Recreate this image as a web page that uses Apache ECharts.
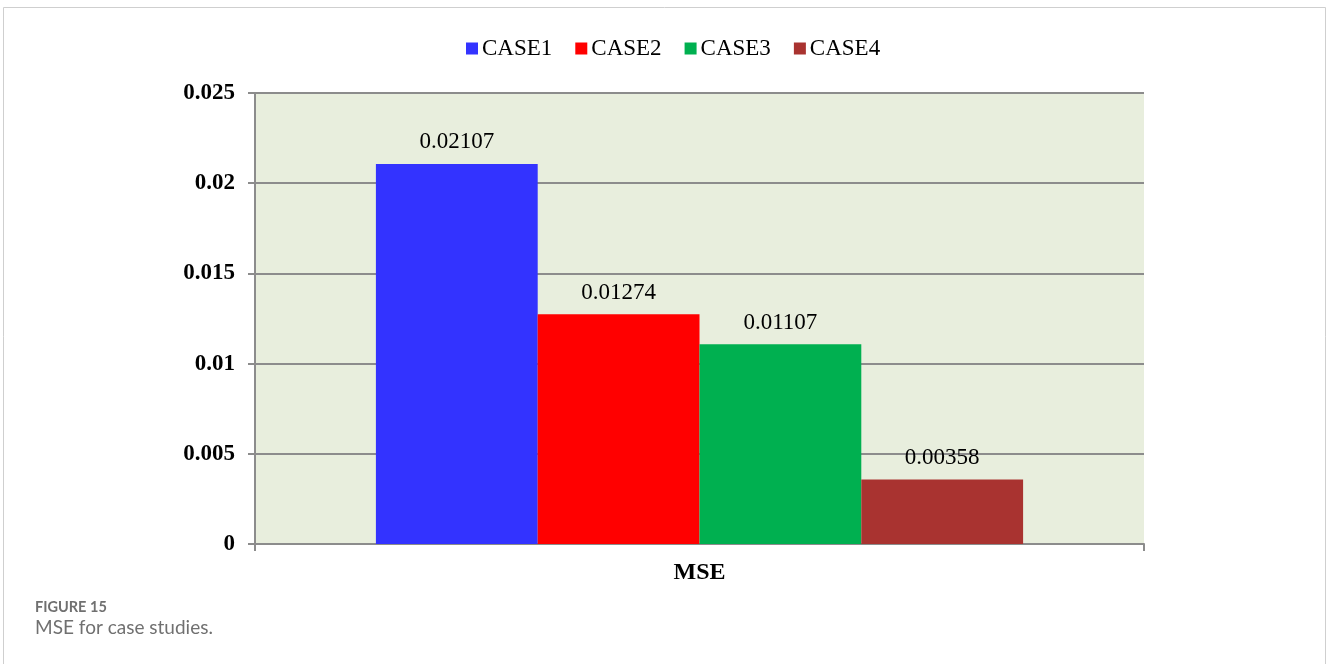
<!DOCTYPE html>
<html>
<head>
    <meta charset="UTF-8">
    <title>MSE for case studies</title>
    <style type="text/css">
        html, body {
            margin: 0;
            padding: 0;
            background: #fff;
        }
        #main {
            width: 1327px;
            height: 664px;
        }
    </style>
</head>
<body>
<div id="main"></div>
<script src="https://cdn.jsdelivr.net/npm/echarts@6/dist/echarts.min.js"></script>
<script>
    // data
    var categories = ['MSE'];
    var seriesNames = ['CASE1', 'CASE2', 'CASE3', 'CASE4'];
    var case1 = [0.02107];
    var case2 = [0.01274];
    var case3 = [0.01107];
    var case4 = [0.00358];
    var colors = ['#3333FF', '#FF0000', '#00B050', '#A93330'];

    var serif = '"Liberation Serif", "Times New Roman", serif';
    var allValues = [case1, case2, case3, case4];

    var myChart = echarts.init(document.getElementById('main'));

    var series = seriesNames.map(function (name, i) {
        return {
            name: name,
            type: 'bar',
            data: allValues[i],
            barGap: '0%',
            barCategoryGap: '27.2%',
            itemStyle: { color: colors[i] },
            label: {
                show: true,
                position: 'top',
                distance: 10,
                fontFamily: serif,
                fontSize: 23,
                color: '#000',
                formatter: function (p) { return p.value.toFixed(5); }
            }
        };
    });

    var option = {
        animation: false,
        backgroundColor: '#fff',
        color: colors,
        legend: {
            data: seriesNames,
            top: 32,
            left: 461,
            itemWidth: 12,
            itemHeight: 12,
            itemGap: 23,
            icon: 'rect',
            textStyle: { fontFamily: serif, fontSize: 23, color: '#000', padding: [0, 0, 0, -1] }
        },
        grid: {
            left: 255,
            top: 93,
            width: 889,
            height: 451,
            show: true,
            backgroundColor: '#E8EEDD',
            borderWidth: 0
        },
        xAxis: {
            type: 'category',
            data: categories,
            axisLine: { lineStyle: { color: '#8c8c8c', width: 2 } },
            axisTick: { show: true, length: 7, lineStyle: { color: '#8c8c8c', width: 2 } },
            axisLabel: {
                margin: 17,
                fontFamily: serif,
                fontSize: 24,
                fontWeight: 'bold',
                color: '#000'
            }
        },
        yAxis: {
            type: 'value',
            min: 0,
            max: 0.025,
            interval: 0.005,
            axisLine: { show: true, lineStyle: { color: '#8c8c8c', width: 2 } },
            axisTick: { show: true, length: 7, lineStyle: { color: '#8c8c8c', width: 2 } },
            splitLine: { lineStyle: { color: '#8c8c8c', width: 2 } },
            axisLabel: {
                margin: 20,
                fontFamily: serif,
                fontSize: 23,
                fontWeight: 'bold',
                color: '#000',
                formatter: function (v) { return String(+v.toFixed(3)); }
            }
        },
        graphic: [
            {
                type: 'rect',
                shape: { x: 3.5, y: 7.5, width: 1322, height: 700 },
                style: { fill: 'none', stroke: '#cfcfcf', lineWidth: 1 },
                silent: true
            },
            {
                type: 'text',
                left: 35,
                top: 600,
                style: {
                    text: 'FIGURE 15',
                    font: 'bold 14.5px Lato, "Open Sans", sans-serif',
                    fill: '#707070'
                }
            },
            {
                type: 'text',
                left: 35,
                top: 618,
                style: {
                    text: 'MSE for case studies.',
                    font: '19px Lato, "Open Sans", sans-serif',
                    fill: '#707070'
                }
            }
        ],
        series: series
    };

    myChart.setOption(option);
</script>
</body>
</html>
